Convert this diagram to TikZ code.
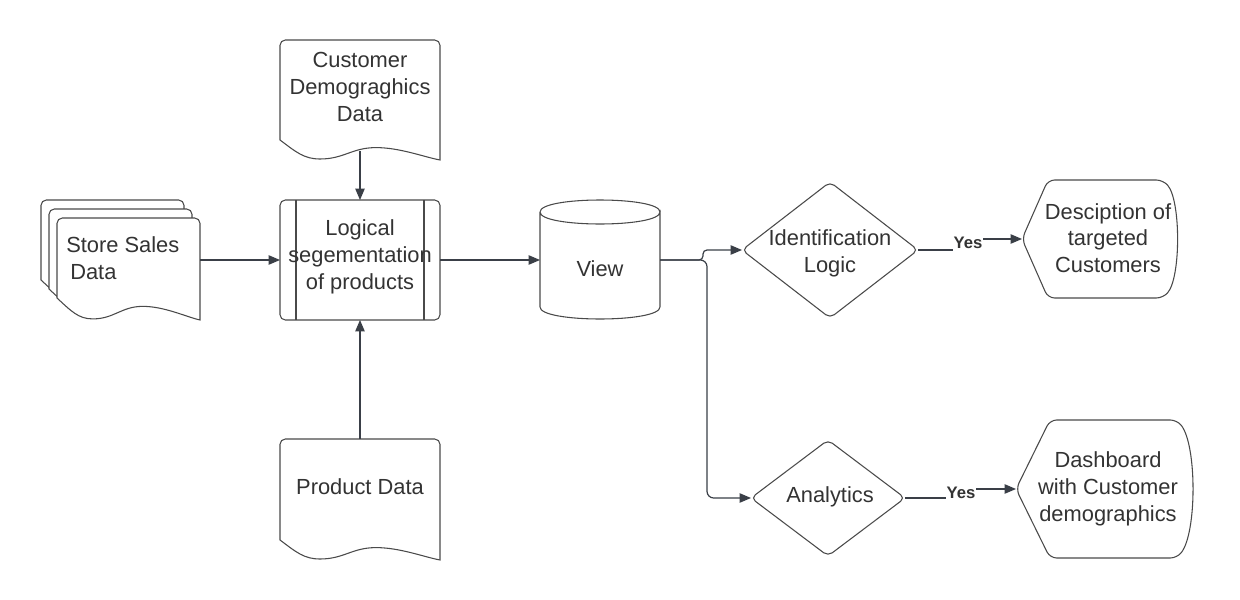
\documentclass[tikz,border=0pt]{standalone}
\usepackage{fontspec}
\setmainfont{Liberation Sans}
\usetikzlibrary{arrows.meta}
\definecolor{ln}{HTML}{3A3F47}
\definecolor{txt}{HTML}{333333}
\definecolor{sh}{HTML}{4A4A4A}
\tikzset{
  shp/.style={draw=sh, line width=0.8pt, fill=white},
  edgeln/.style={draw=sh, line width=0.8pt},
  conn/.style={draw=ln, line width=0.9pt, -{Triangle[length=8.5pt,width=7pt]}},
  plainln/.style={draw=ln, line width=0.9pt},
  lbl/.style={font=\fontsize{16.4}{20}\selectfont, text=txt, align=center, inner sep=0pt},
  ylbl/.style={font=\fontsize{12.5}{14}\selectfont\bfseries, text=txt, inner sep=0.5pt},
  ghost/.style={inner sep=0pt, outer sep=0pt},
}
\newcommand{\docshape}[5]{%
  \draw[shp] (#1,#2+#4) [rounded corners=4] -- (#1,#2) -- (#1+#3,#2) [sharp corners] -- (#1+#3,#2+#4+#5)
    .. controls ({#1+0.9*#3},{#2+#4+0.85*#5}) and ({#1+0.75*#3},{#2+#4+0.38*#5}) .. ({#1+0.6*#3},{#2+#4+0.38*#5})
    .. controls ({#1+0.45*#3},{#2+#4+0.38*#5}) and ({#1+0.4*#3},{#2+#4+0.95*#5}) .. ({#1+0.25*#3},{#2+#4+0.95*#5})
    .. controls ({#1+0.15*#3},{#2+#4+0.95*#5}) and ({#1+0.1*#3},{#2+#4+0.6*#5}) .. (#1,#2+#4) -- cycle;
}
\begin{document}
\begin{tikzpicture}[x=0.75pt, y=-0.75pt]
\useasboundingbox[fill=white] (0,0) rectangle (1240,600);

% Store sales data (stacked documents)
\docshape{41}{200}{143}{80}{22}
\docshape{49}{209}{143}{80}{22}
\docshape{57}{218}{143}{80}{22}
\node[ghost, minimum width=107.25pt, minimum height=60pt] (store) at (128.5,260) {};
\node[lbl, align=left, anchor=west] (storet) at (66,258) {Store Sales\\\hspace{3pt}Data};

% Customer demographics document
\docshape{280}{40}{160}{100}{20}
\node[lbl] (cust) at (360,87) {Customer\\Demograghics\\Data};
\coordinate (custb) at (360,151);

% Product data document
\docshape{280}{439}{160}{101}{20}
\node[ghost, minimum width=120pt, minimum height=75pt] (prod) at (360,489) {};
\node[lbl] (prodt) at (360,487) {Product Data};

% Logical segmentation (predefined process)
\node[shp, rounded corners=4, ghost, minimum width=120pt, minimum height=90pt] (logic) at (360,260) {};
\draw[edgeln] ([xshift=12pt]logic.north west) -- ([xshift=12pt]logic.south west);
\draw[edgeln] ([xshift=-12pt]logic.north east) -- ([xshift=-12pt]logic.south east);
\node[lbl] (logict) at (360,257) {Logical\\segementation\\of products};

% View (cylinder)
\draw[shp] (540,212) -- (540,307) .. controls (540,323) and (660,323) .. (660,307) -- (660,212)
  .. controls (660,228) and (540,228) .. (540,212);
\draw[edgeln] (540,212) .. controls (540,196) and (660,196) .. (660,212);
\node[ghost, minimum width=90pt, minimum height=80pt] (view) at (600,260) {};
\node[lbl] (viewt) at (600,269) {View};

% Identification Logic (decision)
\node[ghost, minimum width=132pt, minimum height=102pt] (idl) at (830,250) {};
\draw[shp, rounded corners=4] (idl.west) -- (idl.north) -- (idl.east) -- (idl.south) -- cycle;
\node[lbl] (idlt) at (830,253.5) {Identification\\Logic};

% Analytics (decision)
\node[ghost, minimum width=115.5pt, minimum height=87pt] (ana) at (828,498) {};
\draw[shp, rounded corners=4] (ana.west) -- (ana.north) -- (ana.east) -- (ana.south) -- cycle;
\node[lbl] (anat) at (830,497) {Analytics};

% Description of targeted customers (display)
\node[ghost, minimum width=116.25pt, minimum height=88.5pt] (desc) at (1099.5,239) {};
\draw[shp, rounded corners=5] (desc.west) -- (1048,180) -- (1163,180) .. controls (1181,200) and (1181,278) .. (1163,298) -- (1048,298) -- cycle;
\node[lbl] (desct) at (1108,238) {Desciption of\\targeted\\Customers};

% Dashboard (display)
\node[ghost, minimum width=132pt, minimum height=103.5pt] (dash) at (1104,489) {};
\draw[shp, rounded corners=5] (dash.west) -- (1050,420) -- (1177,420) .. controls (1197,445) and (1197,533) .. (1177,558) -- (1050,558) -- cycle;
\node[lbl] (dasht) at (1108,489) {Dashboard\\with Customer\\demographics};

% Connectors
\draw[conn] (store.east) -- (logic.west);
\draw[conn] (custb) -- (logic.north);
\draw[conn] (prod.north) -- (logic.south);
\draw[conn] (logic.east) -- (view.west);
\draw[conn, rounded corners=5] (view.east) -- (707,260) -- (707,498) -- (ana.west);
\draw[conn, rounded corners=3] (view.east) -- (703,260) -- (703,250) -- (idl.west);

% Yes labels
\node[ylbl] (y1) at (968,243) {Yes};
\draw[plainln] (idl.east) -- (idl.east -| y1.west);
\draw[conn] (y1.east |- desc.west) -- (desc.west);
\node[ylbl] (y2) at (961,493) {Yes};
\draw[plainln] (ana.east) -- (ana.east -| y2.west);
\draw[conn] (y2.east |- dash.west) -- (dash.west);
\end{tikzpicture}
\end{document}
